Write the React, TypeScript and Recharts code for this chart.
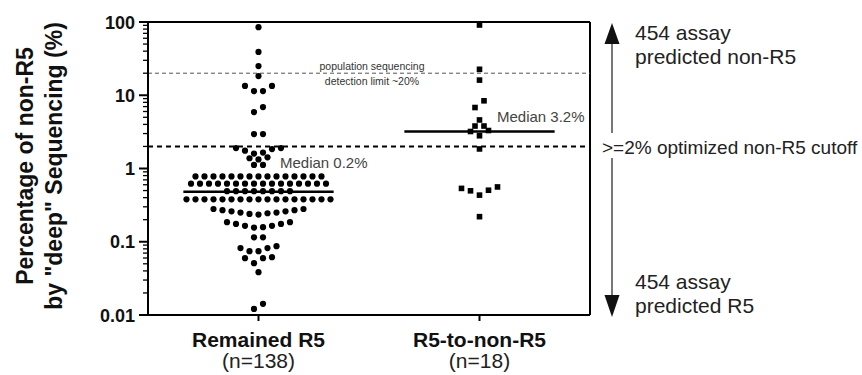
import React from 'react'
import { ScatterChart, Scatter, XAxis, YAxis, ReferenceLine } from 'recharts'

// swarm rows, top to bottom (% non-R5 by deep sequencing)
const remainedR5: number[][] = [
  [85], [39], [25], [18.3],
  [13.4, 13.4, 11.4, 11.4],
  [6.9, 5.9],
  [2.95, 2.95],
  [1.9, 1.9, 1.84, 1.75, 1.65, 1.6],
  [1.42, 1.38, 1.33],
  [1.12, 1.12],
  [0.78, 0.78, 0.78, 0.78, 0.78, 0.78, 0.78, 0.78, 0.78, 0.78, 0.78, 0.78, 0.78, 0.78, 0.78],
  [0.62, 0.62, 0.62, 0.62, 0.62, 0.62, 0.62, 0.62, 0.62, 0.62, 0.62, 0.62, 0.62, 0.62, 0.62, 0.62],
  [0.49, 0.49, 0.49, 0.49, 0.49, 0.49, 0.49, 0.49],
  [0.38, 0.38, 0.38, 0.38, 0.38, 0.38, 0.38, 0.38, 0.38, 0.38, 0.38, 0.38, 0.38, 0.38, 0.38, 0.38, 0.38],
  [0.28, 0.28, 0.27, 0.27, 0.26, 0.26, 0.25, 0.25, 0.245, 0.24, 0.235],
  [0.185, 0.185, 0.175, 0.175, 0.165, 0.165, 0.158, 0.156],
  [0.115, 0.115],
  [0.087, 0.082, 0.082, 0.0744, 0.0744],
  [0.0616, 0.0597, 0.0597, 0.051],
  [0.0384],
  [0.0142, 0.0121],
]

const r5ToNonR5: number[][] = [
  [91], [22.6], [16.1],
  [8.4, 6.8],
  [4.6],
  [3.8, 3.8],
  [3.3, 3.2, 2.8],
  [1.85],
  [0.56, 0.535, 0.505, 0.496, 0.433],
  [0.22],
]

const categories = ['Remained R5', 'R5-to-non-R5']
const counts = ['(n=138)', '(n=18)']
const categoryX = [0.5, 1.5]
const medians = [0.48, 3.2]
const medianLabels = ['Median 0.2%', 'Median 3.2%']
const detectionLimit = 20
const cutoff = 2

const majorTicks = [0.01, 0.1, 1, 10, 100]
const majorLabels = ['0.01', '0.1', '1', '10', '100']
const minorTicks = majorTicks.slice(0, -1).flatMap(d => [2, 3, 4, 5, 6, 7, 8, 9].map(m => +(d * m).toPrecision(3)))

const W = 862
const H = 375
const M = { top: 22, right: 272, bottom: 5, left: 0 }
const Y_AXIS_W = 148
const X_AXIS_H = 55
const PLOT_L = M.left + Y_AXIS_W
const PLOT_W = W - M.right - PLOT_L
const PX_PER_X = PLOT_W / 2
const STEP = 9 // px between neighbours in a swarm row
const FONT = 'Arial, "Liberation Sans", Helvetica, sans-serif'

// prism-like placement: lowest value in the middle, then out left/right
const slot = (i: number, n: number) => {
  if (n % 2 === 1) {
    if (i === 0) return 0
    const k = Math.ceil(i / 2)
    return i % 2 === 1 ? -k : k
  }
  const k = Math.floor(i / 2) + 0.5
  return i % 2 === 0 ? -k : k
}

const swarm = (rows: number[][], center: number) =>
  rows.flatMap(row =>
    [...row].sort((a, b) => a - b).map((v, i) => ({ x: center + (slot(i, row.length) * STEP) / PX_PER_X, y: v }))
  )

const dotsData = swarm(remainedR5, categoryX[0])
const squaresData = swarm(r5ToNonR5, categoryX[1])

const Dot = (p: any) => <circle cx={p.cx} cy={p.cy} r={3.1} fill="#000" />
const Square = (p: any) => <rect x={p.cx - 2.8} y={p.cy - 2.8} width={5.6} height={5.6} fill="#000" />

const YTick = (p: any) => {
  const v = p.payload.value
  const idx = majorTicks.indexOf(v)
  const major = idx >= 0
  return (
    <g>
      <line x1={PLOT_L - (major ? 9 : 5)} x2={PLOT_L} y1={p.y} y2={p.y} stroke="#000" strokeWidth={major ? 2 : 1.3} />
      {major && (
        <text x={PLOT_L - 13} y={p.y + 6.5} textAnchor="end" fontSize={18} fontWeight="bold" fontFamily={FONT} fill="#111">
          {majorLabels[idx]}
        </text>
      )}
    </g>
  )
}

const XTick = (p: any) => {
  const idx = categoryX.indexOf(p.payload.value)
  return (
    <g>
      <line x1={p.x} x2={p.x} y1={p.y} y2={p.y + 6} stroke="#000" strokeWidth={2} />
      <text x={p.x} y={p.y + 32} textAnchor="middle" fontSize={21} fontWeight="bold" fontFamily={FONT} fill="#111">
        {categories[idx]}
      </text>
      <text x={p.x} y={p.y + 53} textAnchor="middle" fontSize={21} fontFamily={FONT} fill="#222">
        {counts[idx]}
      </text>
    </g>
  )
}

export default function App() {
  return (
    <div style={{ position: 'relative', width: W, height: H, background: '#fff' }}>
      <style>{'body{margin:0}'}</style>
      <ScatterChart width={W} height={H} margin={M}>
        <XAxis
          type="number"
          dataKey="x"
          domain={[0, 2]}
          ticks={categoryX}
          tick={<XTick />}
          tickLine={false}
          tickSize={0}
          tickMargin={0}
          height={X_AXIS_H}
          axisLine={{ stroke: '#000', strokeWidth: 2 }}
          allowDataOverflow
        />
        <YAxis
          type="number"
          dataKey="y"
          scale="log"
          domain={[0.01, 100]}
          ticks={[...majorTicks, ...minorTicks]}
          tick={<YTick />}
          tickLine={false}
          tickSize={0}
          tickMargin={0}
          width={Y_AXIS_W}
          interval={0}
          axisLine={{ stroke: '#000', strokeWidth: 2 }}
          allowDataOverflow
        />
        <ReferenceLine y={100} stroke="#000" strokeWidth={2} ifOverflow="visible" />
        <ReferenceLine x={2} stroke="#000" strokeWidth={2} ifOverflow="visible" />
        <ReferenceLine y={detectionLimit} stroke="#555" strokeWidth={1} strokeDasharray="4 3" />
        <ReferenceLine y={cutoff} stroke="#000" strokeWidth={2} strokeDasharray="5 4" />
        {medians.map((m, i) => (
          <ReferenceLine
            key={i}
            segment={[{ x: categoryX[i] - 0.34, y: m }, { x: categoryX[i] + 0.34, y: m }]}
            stroke="#000"
            strokeWidth={2.5}
          />
        ))}
        <Scatter data={dotsData} shape={<Dot />} isAnimationActive={false} />
        <Scatter data={squaresData} shape={<Square />} isAnimationActive={false} />
      </ScatterChart>
      <svg width={W} height={H} style={{ position: 'absolute', left: 0, top: 0, pointerEvents: 'none' }} fontFamily={FONT}>
        <g fontSize={23} fontWeight="bold" fill="#111" textAnchor="middle">
          <text transform="translate(33,166) rotate(-90)">Percentage of non-R5</text>
          <text transform="translate(62,166) rotate(-90)">by "deep" Sequencing (%)</text>
        </g>
        <g fontSize={10.5} fill="#333" textAnchor="middle">
          <text x={372} y={70}>population sequencing</text>
          <text x={372} y={85}>detection limit ~20%</text>
        </g>
        <g fontSize={15} fill="#444">
          <text x={280} y={168}>{medianLabels[0]}</text>
          <text x={497} y={122}>{medianLabels[1]}</text>
        </g>
        <g stroke="#555" strokeWidth={1.6}>
          <line x1={612} x2={612} y1={42} y2={133} />
          <line x1={612} x2={612} y1={158} y2={297} />
        </g>
        <polygon points="612,23 604.5,44 619.5,44" fill="#111" />
        <polygon points="612,317 604.5,295 619.5,295" fill="#111" />
        <g fontSize={21} fill="#222">
          <text x={635} y={40}>454 assay</text>
          <text x={635} y={64}>predicted non-R5</text>
          <text x={635} y={289}>454 assay</text>
          <text x={635} y={313}>predicted R5</text>
        </g>
        <text x={602} y={154} fontSize={19} fill="#222">&gt;=2% optimized non-R5 cutoff</text>
      </svg>
    </div>
  )
}
